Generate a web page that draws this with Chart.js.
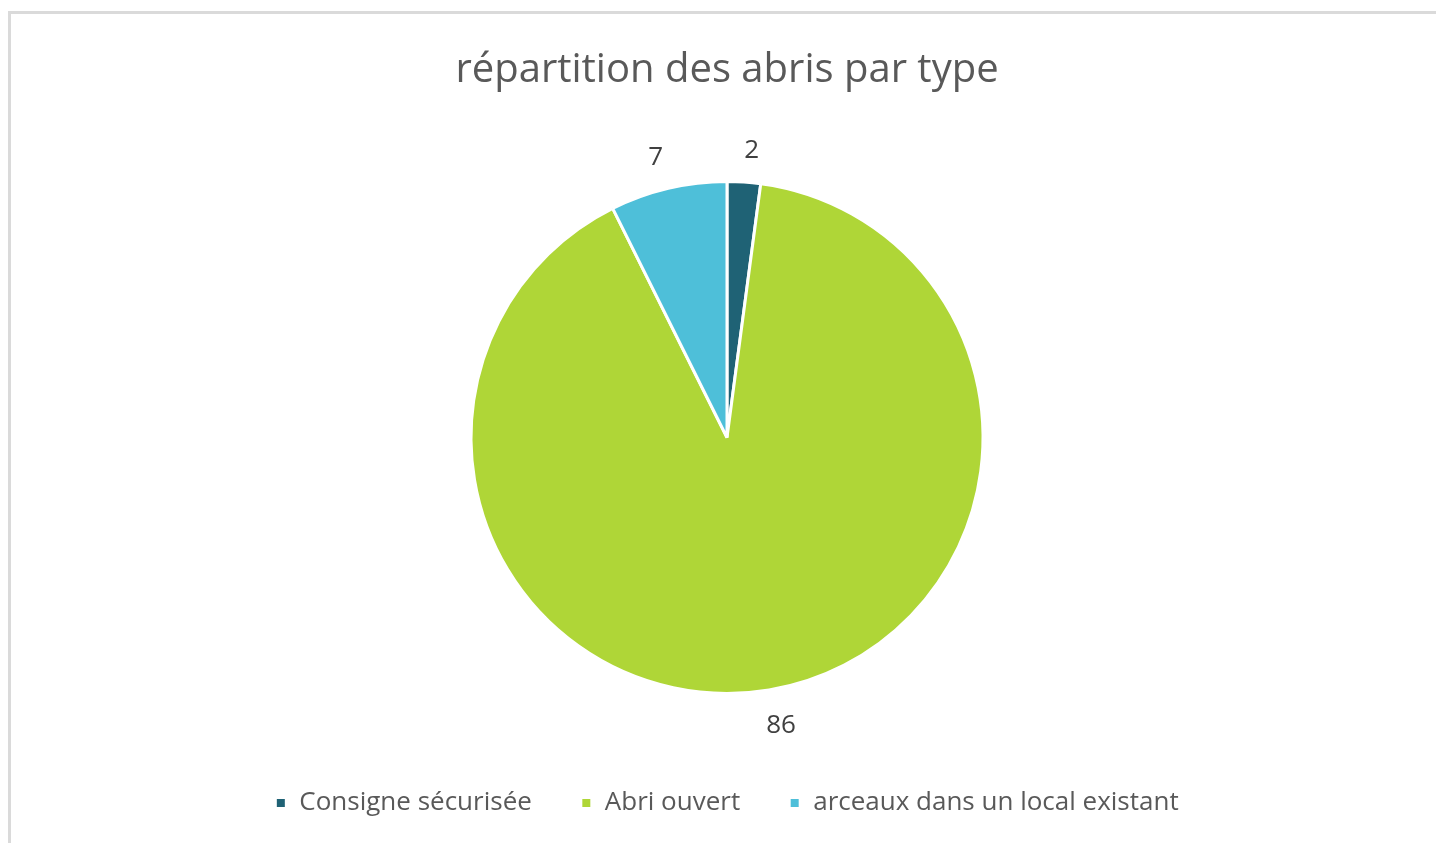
<!DOCTYPE html>
<html lang="fr">
<head>
<meta charset="utf-8">
<title>répartition des abris par type</title>
<script src="https://cdn.jsdelivr.net/npm/chart.js@4/dist/chart.umd.min.js"></script>
<style>
  html, body { margin: 0; padding: 0; background: #ffffff; overflow: hidden; }
  #frame { position: absolute; left: 8px; top: 11px; width: 1500px; height: 900px; border: 3px solid #dadada; box-sizing: border-box; }
  #c { position: absolute; left: 0; top: 0; }
</style>
</head>
<body>
<div id="frame"></div>
<canvas id="c" width="1436" height="843"></canvas>
<script>
const titleText = "répartition des abris par type";
const categories = ["Consigne sécurisée", "Abri ouvert", "arceaux dans un local existant"];
const values = [2, 86, 7];
const colors = ["#1f6275", "#afd637", "#4ebfd9"];

const FONT = "'Open Sans', Lato, 'DejaVu Sans', sans-serif";

const outsideLabels = {
  id: "outsideLabels",
  afterDatasetsDraw(chart) {
    const ctx = chart.ctx;
    const meta = chart.getDatasetMeta(0);
    ctx.save();
    ctx.font = "26px " + FONT;
    ctx.fillStyle = "#404040";
    ctx.textAlign = "center";
    ctx.textBaseline = "middle";
    meta.data.forEach((arc, i) => {
      const p = arc.getProps(["x", "y", "startAngle", "endAngle", "outerRadius"], true);
      const mid = (p.startAngle + p.endAngle) / 2;
      const txt = String(chart.data.datasets[0].data[i]);
      const w = ctx.measureText(txt).width;
      const dx = Math.cos(mid), dy = Math.sin(mid);
      const r = p.outerRadius + 21;
      ctx.fillText(txt, p.x + dx * r + dx * w / 2 + Math.sign(dx) * 6, p.y + dy * r + dy * 13 + 2);
    });
    ctx.restore();
  }
};

new Chart(document.getElementById("c"), {
  type: "pie",
  data: {
    labels: categories,
    datasets: [{
      data: values,
      backgroundColor: colors,
      borderColor: "#ffffff",
      borderWidth: 3,
      radius: 256
    }]
  },
  options: {
    responsive: false,
    animation: false,
    devicePixelRatio: 1,
    layout: { padding: { top: 47, bottom: 17, left: 18, right: 0 } },
    plugins: {
      title: {
        display: true,
        text: titleText,
        color: "#595959",
        font: { family: FONT, size: 40, weight: "normal" },
        padding: { top: 0, bottom: 39 }
      },
      legend: {
        display: true,
        position: "bottom",
        labels: {
          color: "#595959",
          font: { family: FONT, size: 26 },
          boxWidth: 11,
          boxHeight: 11,
          padding: 49
        }
      },
      tooltip: { enabled: false }
    }
  },
  plugins: [outsideLabels]
});
</script>
</body>
</html>
